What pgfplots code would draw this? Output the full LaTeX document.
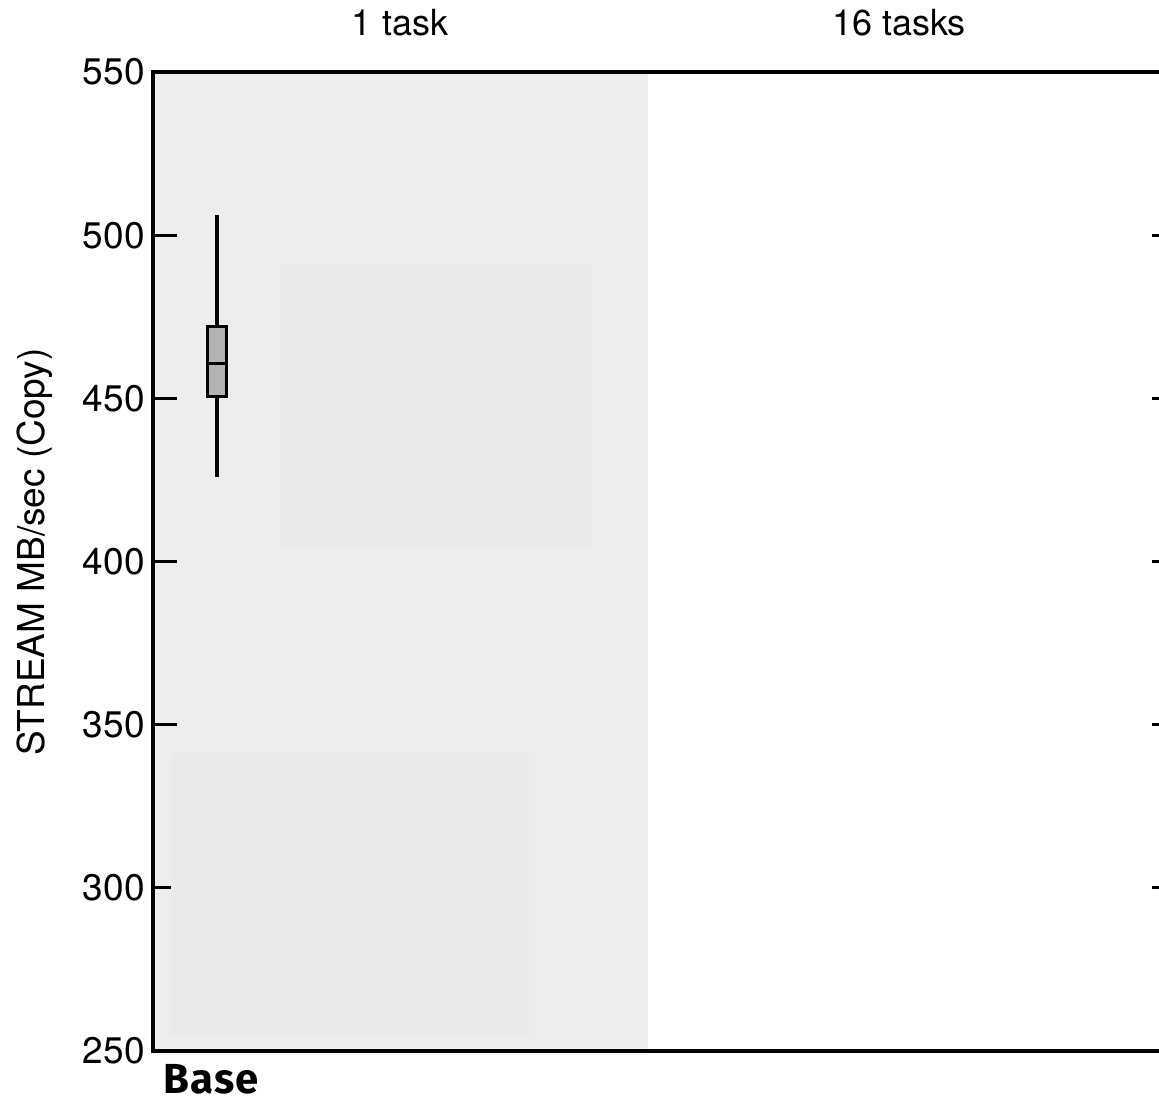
\documentclass[border=0pt]{standalone}
\usepackage{fontspec}
\setmainfont{TeX Gyre Heros}
\newfontfamily\basefont[LetterSpace=3]{Fira Sans}
\usepackage{pgfplots}
\pgfplotsset{compat=1.18}
\definecolor{panelbg}{HTML}{EDEDED}
\definecolor{faint}{HTML}{EAEAEA}
\definecolor{boxfill}{HTML}{B3B3B3}
\begin{document}
\fontsize{18}{21.6}\selectfont
\begin{tikzpicture}
\begin{axis}[
  set layers,
  scale only axis, width=511.5pt, height=489.5pt,
  xmin=153, xmax=1176, ymin=250, ymax=550,
  xtick=\empty,
  ytick={250,300,350,400,450,500,550},
  tick align=inside,
  major tick length=12pt,
  tick style={line width=1.4pt, black},
  axis line style={line width=1.6pt, black},
  clip=false,
  /pgf/number format/assume math mode=true,
  yticklabel style={font=\fontsize{18.5}{22}\selectfont, inner sep=0pt, xshift=-4pt},
  yticklabel pos=left,
  ylabel={STREAM MB/sec (Copy)},
  ylabel style={font=\fontsize{18.5}{22}\selectfont, at={(axis description cs:-0.1153,0.5097)}, anchor=center},
]
\begin{pgfonlayer}{axis background}
\fill[panelbg] (axis cs:153,250) rectangle (axis cs:648,550);
\end{pgfonlayer}
\fill[faint] (axis cs:171,254.9) rectangle (axis cs:529,341.3);
\fill[faint] (axis cs:281,404.4) rectangle (axis cs:591,490.9);
% box plot: whiskers 426 / 506.2, quartiles 450.5 / 471.9, median 460.8
\addplot[black, line width=1.7pt, mark=none] coordinates {(216.9,471.9) (216.9,506.2)};
\addplot[black, line width=1.7pt, mark=none] coordinates {(216.9,426) (216.9,450.5)};
\addplot[fill=boxfill, draw=black, line width=1.5pt, mark=none] coordinates {(207.8,450.5) (226,450.5) (226,471.9) (207.8,471.9)} -- cycle;
\addplot[black, line width=1.4pt, mark=none] coordinates {(207.8,460.8) (226,460.8)};
\end{axis}
\node[anchor=base] at (123.5pt,507.5pt) {1 task};
\node[anchor=base] at (373pt,507.5pt) {16 tasks};
\node[anchor=base west, inner sep=0pt, font=\basefont\bfseries\fontsize{21}{24}\selectfont] at (5pt,-21pt) {Base};
\pgfresetboundingbox
\useasboundingbox (-76.5pt,-24.5pt) rectangle (503pt,525.5pt);
\end{tikzpicture}
\end{document}
